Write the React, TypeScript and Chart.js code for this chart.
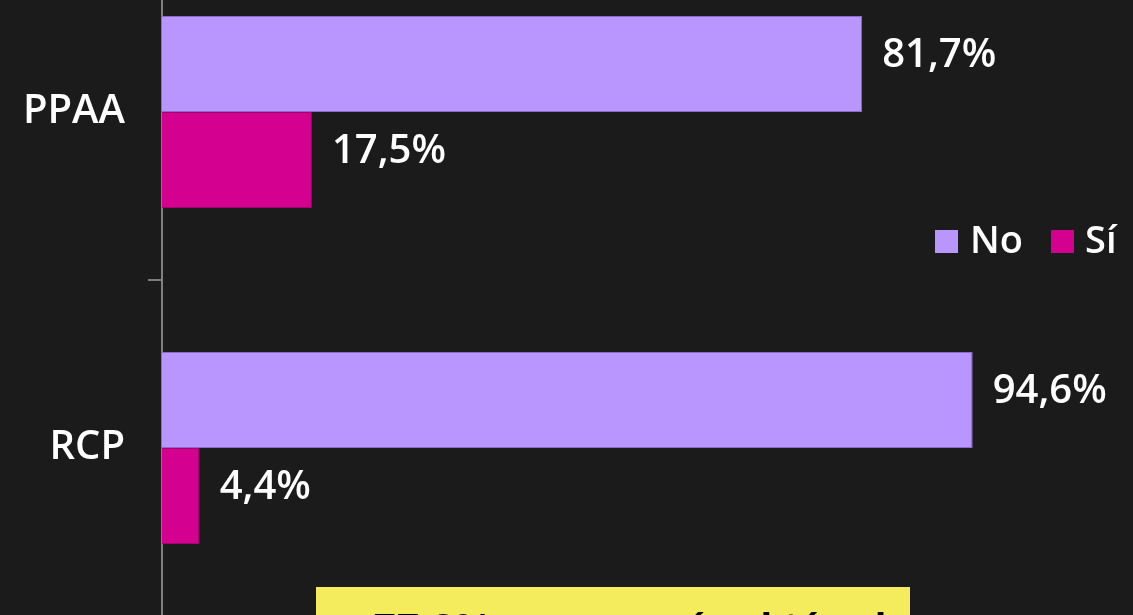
import React, { useEffect, useRef } from 'react';
import { Chart, registerables } from 'chart.js';

Chart.register(...registerables);

const categories = ['PPAA', 'RCP'];
const seriesNames = ['No', 'Sí'];
const noValues = [81.7, 94.6];
const siValues = [17.5, 4.4];
const calloutText = '77,2% no conocía el término';

const NO_COLOR = '#b996fd';
const NO_BORDER = '#8a6cc8';
const SI_COLOR = '#d40090';
const SI_BORDER = '#a3006e';
const BG = '#1b1b1b';

const fmt = (v: number) => v.toFixed(1).replace('.', ',') + '%';

const valueLabels = {
  id: 'valueLabels',
  afterDatasetsDraw(chart: any) {
    const ctx = chart.ctx;
    ctx.save();
    ctx.font = '600 40px "Open Sans"';
    ctx.fillStyle = '#ffffff';
    ctx.textBaseline = 'middle';
    ctx.textAlign = 'left';
    chart.data.datasets.forEach((ds: any, i: number) => {
      const meta = chart.getDatasetMeta(i);
      meta.data.forEach((bar: any, j: number) => {
        ctx.fillText(fmt(ds.data[j]), bar.x + 20, bar.y - 8);
      });
    });
    ctx.restore();
  },
};

export default function App() {
  const ref = useRef<HTMLCanvasElement | null>(null);

  useEffect(() => {
    if (!ref.current) return;
    const chart = new Chart(ref.current, {
      type: 'bar',
      data: {
        labels: categories,
        datasets: [
          {
            label: seriesNames[0],
            data: noValues,
            backgroundColor: NO_COLOR,
            borderColor: NO_BORDER,
            borderWidth: 1,
            categoryPercentage: 0.5714,
            barPercentage: 1,
          },
          {
            label: seriesNames[1],
            data: siValues,
            backgroundColor: SI_COLOR,
            borderColor: SI_BORDER,
            borderWidth: 1,
            categoryPercentage: 0.5714,
            barPercentage: 1,
          },
        ],
      },
      options: {
        indexAxis: 'y',
        responsive: false,
        animation: false,
        layout: { padding: { left: 0, right: 114, top: 0, bottom: 0 } },
        plugins: {
          legend: { display: false },
          tooltip: { enabled: false },
        },
        scales: {
          x: { display: false, min: 0, max: 100 },
          y: {
            offset: true,
            afterFit: (scale: any) => {
              scale.width = 162;
              scale.paddingTop = 0;
              scale.paddingBottom = 0;
            },
            grid: {
              display: true,
              offset: true,
              drawOnChartArea: false,
              drawTicks: true,
              tickLength: 14,
              color: '#7d7d7d',
              lineWidth: 2,
            },
            border: { display: true, color: '#808080', width: 2 },
            ticks: {
              color: '#ffffff',
              padding: 23,
              font: { family: '"Open Sans"', size: 40, weight: '600' },
            },
          },
        },
      },
      plugins: [valueLabels],
    });
    return () => chart.destroy();
  }, []);

  const legendText: React.CSSProperties = {
    position: 'absolute',
    fontFamily: '"Open Sans"',
    fontWeight: 600,
    fontSize: 38,
    lineHeight: '38px',
    color: '#ffffff',
    top: 219,
    whiteSpace: 'nowrap',
  };

  return (
    <div
      style={{
        position: 'absolute',
        left: 0,
        top: 0,
        width: 1133,
        height: 615,
        overflow: 'hidden',
        background: BG,
      }}
    >
      <div style={{ position: 'absolute', left: 0, top: -56, width: 1133, height: 672 }}>
        <canvas ref={ref} width={1133} height={672} style={{ display: 'block' }} />
      </div>
      <div style={{ position: 'absolute', left: 935, top: 230, width: 23, height: 23, background: NO_COLOR }} />
      <div style={{ ...legendText, left: 970 }}>{seriesNames[0]}</div>
      <div style={{ position: 'absolute', left: 1051, top: 230, width: 23, height: 23, background: SI_COLOR }} />
      <div style={{ ...legendText, left: 1085 }}>{seriesNames[1]}</div>
      <div
        style={{
          position: 'absolute',
          left: 316,
          top: 587,
          width: 594,
          height: 60,
          background: '#f4ec5c',
        }}
      >
        <div
          style={{
            position: 'absolute',
            left: 57,
            top: 21,
            fontFamily: '"Liberation Sans", Arial, sans-serif',
            fontWeight: 700,
            fontSize: 42,
            lineHeight: '42px',
            color: '#000000',
            whiteSpace: 'nowrap',
          }}
        >
          {calloutText}
        </div>
      </div>
    </div>
  );
}
